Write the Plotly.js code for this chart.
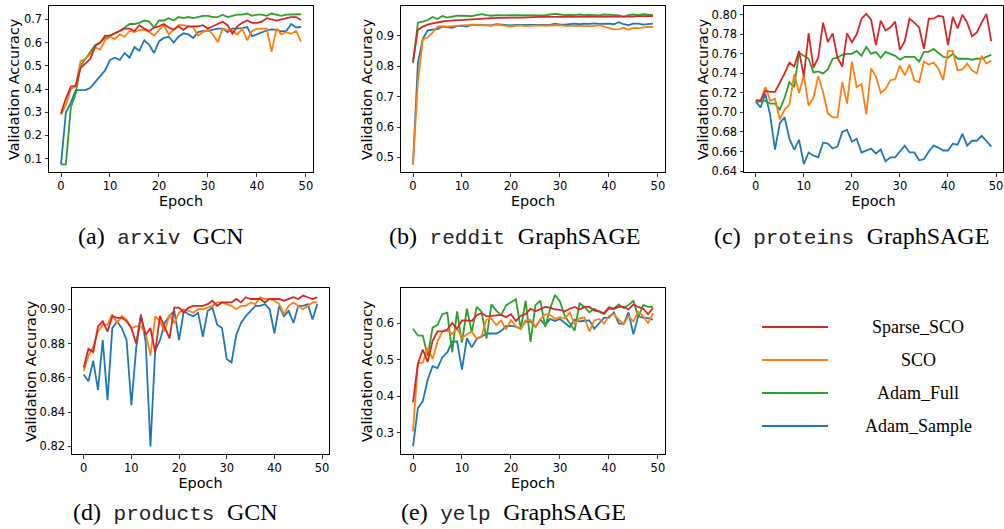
<!DOCTYPE html>
<html><head><meta charset="utf-8">
<script src="https://cdn.plot.ly/plotly-3.0.1.min.js"></script>
<style>html,body{margin:0;padding:0;background:#fff}#chart{width:1004px;height:529px}</style>
</head><body><div id="chart"></div>
<script>
const epochs = [0,1,2,3,4,5,6,7,8,9,10,11,12,13,14,15,16,17,18,19,20,21,22,23,24,25,26,27,28,29,30,31,32,33,34,35,36,37,38,39,40,41,42,43,44,45,46,47,48,49];
const seriesNames = ['Sparse_SCO','SCO','Adam_Full','Adam_Sample'];
const xTicks = [0,10,20,30,40,50];

// (a) arxiv GCN
const arxivSparseSCO = [0.295,0.36,0.41,0.415,0.49,0.51,0.53,0.585,0.60,0.63,0.63,0.64,0.65,0.66,0.66,0.65,0.675,0.66,0.65,0.665,0.67,0.68,0.665,0.655,0.67,0.655,0.67,0.67,0.67,0.675,0.66,0.67,0.68,0.69,0.675,0.638,0.67,0.685,0.695,0.685,0.685,0.69,0.705,0.70,0.695,0.70,0.705,0.71,0.71,0.697];
const arxivSCO = [0.29,0.33,0.40,0.41,0.52,0.53,0.55,0.58,0.57,0.61,0.625,0.615,0.635,0.625,0.65,0.645,0.655,0.655,0.645,0.63,0.655,0.675,0.635,0.655,0.675,0.675,0.67,0.665,0.63,0.645,0.655,0.635,0.602,0.66,0.655,0.65,0.635,0.66,0.61,0.65,0.66,0.66,0.66,0.56,0.66,0.635,0.645,0.638,0.65,0.604];
const arxivAdamFull = [0.075,0.075,0.32,0.38,0.50,0.53,0.56,0.59,0.60,0.62,0.63,0.64,0.65,0.665,0.68,0.68,0.685,0.695,0.69,0.665,0.695,0.695,0.705,0.695,0.71,0.705,0.71,0.705,0.71,0.715,0.715,0.71,0.71,0.72,0.71,0.715,0.72,0.72,0.725,0.715,0.72,0.72,0.715,0.725,0.72,0.715,0.72,0.72,0.722,0.722];
const arxivAdamSample = [0.075,0.30,0.34,0.395,0.395,0.395,0.405,0.43,0.45,0.48,0.525,0.535,0.525,0.555,0.535,0.58,0.565,0.61,0.59,0.555,0.605,0.62,0.625,0.60,0.625,0.64,0.635,0.62,0.645,0.65,0.65,0.655,0.66,0.66,0.645,0.66,0.66,0.662,0.667,0.628,0.635,0.645,0.652,0.657,0.655,0.648,0.65,0.68,0.665,0.667];

// (b) reddit GraphSAGE
const redditSparseSCO = [0.815,0.92,0.93,0.937,0.941,0.945,0.947,0.949,0.95,0.952,0.953,0.954,0.956,0.957,0.957,0.958,0.958,0.959,0.959,0.96,0.96,0.96,0.96,0.961,0.961,0.961,0.962,0.962,0.962,0.962,0.963,0.963,0.963,0.963,0.963,0.964,0.964,0.964,0.964,0.964,0.964,0.963,0.962,0.962,0.963,0.963,0.965,0.965,0.965,0.965];
const redditSCO = [0.475,0.75,0.888,0.895,0.91,0.93,0.932,0.93,0.932,0.934,0.934,0.935,0.936,0.936,0.934,0.935,0.933,0.937,0.935,0.933,0.93,0.933,0.934,0.932,0.933,0.934,0.934,0.933,0.934,0.935,0.935,0.933,0.933,0.934,0.934,0.933,0.934,0.932,0.935,0.93,0.925,0.921,0.922,0.927,0.92,0.926,0.925,0.928,0.929,0.929];
const redditAdamFull = [0.81,0.943,0.947,0.952,0.962,0.955,0.965,0.96,0.963,0.966,0.966,0.966,0.965,0.968,0.971,0.968,0.966,0.968,0.967,0.967,0.968,0.968,0.968,0.967,0.966,0.967,0.968,0.967,0.97,0.972,0.97,0.968,0.969,0.968,0.97,0.968,0.969,0.968,0.967,0.97,0.969,0.969,0.967,0.963,0.968,0.97,0.968,0.971,0.969,0.968];
const redditAdamSample = [0.48,0.81,0.89,0.918,0.92,0.922,0.93,0.928,0.926,0.932,0.933,0.93,0.937,0.936,0.935,0.935,0.934,0.938,0.936,0.935,0.934,0.936,0.936,0.936,0.937,0.937,0.936,0.938,0.936,0.94,0.937,0.937,0.939,0.94,0.938,0.94,0.939,0.941,0.939,0.94,0.94,0.938,0.945,0.938,0.935,0.94,0.94,0.937,0.938,0.94];

// (c) proteins GraphSAGE
const proteinsSparseSCO = [0.7127,0.712,0.722,0.721,0.721,0.730,0.740,0.751,0.747,0.763,0.737,0.781,0.746,0.756,0.792,0.772,0.781,0.756,0.747,0.781,0.772,0.780,0.796,0.801,0.795,0.769,0.794,0.784,0.787,0.793,0.764,0.773,0.796,0.792,0.787,0.765,0.796,0.796,0.799,0.798,0.769,0.798,0.786,0.800,0.792,0.778,0.782,0.792,0.801,0.773];
const proteinsSCO = [0.712,0.712,0.726,0.712,0.714,0.693,0.703,0.708,0.739,0.720,0.738,0.707,0.715,0.737,0.721,0.699,0.695,0.695,0.731,0.709,0.752,0.726,0.729,0.698,0.745,0.737,0.720,0.724,0.733,0.734,0.748,0.738,0.749,0.733,0.731,0.752,0.749,0.751,0.745,0.733,0.763,0.763,0.743,0.744,0.750,0.743,0.740,0.758,0.750,0.753];
const proteinsAdamFull = [0.711,0.711,0.712,0.709,0.709,0.703,0.715,0.731,0.726,0.761,0.758,0.755,0.741,0.742,0.740,0.744,0.755,0.756,0.759,0.760,0.760,0.763,0.758,0.767,0.760,0.762,0.756,0.762,0.760,0.758,0.754,0.757,0.757,0.757,0.752,0.762,0.762,0.765,0.761,0.757,0.756,0.760,0.755,0.755,0.755,0.754,0.755,0.755,0.757,0.759];
const proteinsAdamSample = [0.711,0.705,0.719,0.697,0.662,0.689,0.695,0.673,0.662,0.672,0.647,0.659,0.656,0.654,0.669,0.668,0.663,0.665,0.680,0.682,0.670,0.673,0.659,0.661,0.663,0.658,0.662,0.650,0.654,0.654,0.660,0.666,0.659,0.659,0.651,0.652,0.660,0.666,0.664,0.661,0.661,0.668,0.667,0.678,0.666,0.671,0.671,0.676,0.671,0.665];

// (d) products GCN (Adam_Full not visible in the reference)
const productsSparseSCO = [0.866,0.877,0.875,0.890,0.893,0.887,0.896,0.895,0.895,0.893,0.889,0.880,0.896,0.885,0.889,0.875,0.896,0.890,0.883,0.901,0.901,0.898,0.901,0.902,0.902,0.902,0.903,0.905,0.902,0.904,0.904,0.904,0.906,0.904,0.907,0.906,0.906,0.906,0.904,0.906,0.906,0.906,0.905,0.906,0.907,0.906,0.908,0.907,0.906,0.907];
const productsSCO = [0.864,0.873,0.878,0.887,0.891,0.891,0.897,0.892,0.896,0.894,0.889,0.890,0.890,0.886,0.873,0.896,0.893,0.887,0.897,0.892,0.898,0.900,0.899,0.898,0.900,0.900,0.901,0.902,0.904,0.904,0.903,0.902,0.900,0.902,0.902,0.904,0.903,0.907,0.906,0.906,0.905,0.903,0.897,0.902,0.904,0.902,0.900,0.902,0.904,0.904];
const productsAdamFull = [];
const productsAdamSample = [0.862,0.858,0.870,0.853,0.882,0.847,0.889,0.893,0.889,0.882,0.844,0.877,0.897,0.881,0.820,0.876,0.882,0.892,0.896,0.899,0.882,0.899,0.897,0.896,0.898,0.884,0.899,0.901,0.891,0.889,0.871,0.869,0.885,0.892,0.896,0.899,0.902,0.902,0.903,0.900,0.886,0.902,0.896,0.899,0.892,0.902,0.902,0.903,0.894,0.903];

// (e) yelp GraphSAGE
const yelpSparseSCO = [0.383,0.49,0.528,0.494,0.552,0.578,0.578,0.583,0.601,0.585,0.608,0.608,0.607,0.622,0.628,0.619,0.620,0.622,0.623,0.617,0.625,0.606,0.621,0.625,0.640,0.633,0.638,0.645,0.643,0.638,0.637,0.633,0.640,0.645,0.638,0.645,0.645,0.635,0.633,0.628,0.644,0.640,0.645,0.645,0.638,0.652,0.645,0.640,0.625,0.642];
const yelpSCO = [0.303,0.491,0.492,0.532,0.502,0.550,0.577,0.580,0.571,0.586,0.560,0.570,0.577,0.558,0.565,0.610,0.613,0.595,0.608,0.583,0.609,0.592,0.585,0.608,0.610,0.591,0.611,0.625,0.623,0.612,0.617,0.613,0.630,0.598,0.614,0.616,0.578,0.608,0.612,0.599,0.620,0.625,0.610,0.598,0.620,0.605,0.632,0.620,0.600,0.628];
const yelpAdamFull = [0.585,0.566,0.566,0.510,0.588,0.596,0.625,0.629,0.520,0.633,0.547,0.640,0.575,0.645,0.632,0.558,0.652,0.635,0.622,0.649,0.658,0.666,0.585,0.662,0.549,0.650,0.662,0.590,0.640,0.678,0.660,0.620,0.600,0.580,0.655,0.645,0.630,0.640,0.632,0.625,0.640,0.640,0.652,0.642,0.650,0.662,0.618,0.650,0.645,0.645];
const yelpAdamSample = [0.262,0.367,0.386,0.445,0.482,0.477,0.507,0.520,0.550,0.550,0.473,0.559,0.534,0.557,0.563,0.572,0.572,0.572,0.579,0.592,0.593,0.591,0.585,0.605,0.605,0.590,0.610,0.595,0.612,0.606,0.612,0.600,0.590,0.610,0.605,0.607,0.608,0.585,0.600,0.615,0.615,0.630,0.600,0.598,0.630,0.570,0.620,0.615,0.614,0.610];

const yTicksA = [0.1,0.2,0.3,0.4,0.5,0.6,0.7];
const yTicksB = [0.5,0.6,0.7,0.8,0.9];
const yTicksC = [0.64,0.66,0.68,0.70,0.72,0.74,0.76,0.78,0.80];
const yTicksD = [0.82,0.84,0.86,0.88,0.90];
const yTicksE = [0.3,0.4,0.5,0.6];

const captionPrefix = ['(a)','(b)','(c)','(d)','(e)'];
const captionData = ['arxiv','reddit','proteins','products','yelp'];
const captionModel = ['GCN','GraphSAGE','GraphSAGE','GCN','GraphSAGE'];
const yTitle = 'Validation Accuracy';
const xTitle = 'Epoch';

// styling
const colors = {'Sparse_SCO':'#d62728','SCO':'#ff7f0e','Adam_Full':'#2ca02c','Adam_Sample':'#1f77b4'};
const W = 1004, H = 529;
const px = v => v / W, py = v => 1 - v / H;

const panels = [
  {s:[arxivSparseSCO,arxivSCO,arxivAdamFull,arxivAdamSample], x:[49,313], y:[6,172], yr:[0.0425,0.7575], yt:yTicksA, yf:'.1f', cap:[161,236], yl:14},
  {s:[redditSparseSCO,redditSCO,redditAdamFull,redditAdamSample], x:[401,665], y:[6,172], yr:[0.452,0.998], yt:yTicksB, yf:'.1f', cap:[514,236], yl:367},
  {s:[proteinsSparseSCO,proteinsSCO,proteinsAdamFull,proteinsAdamSample], x:[744,1003], y:[6,172], yr:[0.639,0.809], yt:yTicksC, yf:'.2f', cap:[851,236], yl:703},
  {s:[productsSparseSCO,productsSCO,productsAdamFull,productsAdamSample], x:[72,329], y:[288,454], yr:[0.8156,0.9124], yt:yTicksD, yf:'.2f', cap:[175,512], yl:31},
  {s:[yelpSparseSCO,yelpSCO,yelpAdamFull,yelpAdamSample], x:[401,665], y:[288,454], yr:[0.241,0.697], yt:yTicksE, yf:'.1f', cap:[513,512], yl:367}
];

const tickFont = {family:'DejaVu Sans', size:11.5, color:'#000'};
const titleFont = {family:'DejaVu Sans', size:14.4, color:'#000'};
const traces = [];
const layout = {
  width:W, height:H, margin:{l:0,r:0,t:0,b:0}, paper_bgcolor:'#fff', plot_bgcolor:'#fff',
  showlegend:false, shapes:[], annotations:[]
};
const drawOrder = [3,2,1,0];
panels.forEach((p,i) => {
  const n = i === 0 ? '' : String(i+1);
  drawOrder.forEach(k => {
    if (!p.s[k].length) return;
    traces.push({x:epochs, y:p.s[k], type:'scatter', mode:'lines', name:seriesNames[k],
      xaxis:'x'+n, yaxis:'y'+n, line:{color:colors[seriesNames[k]], width:1.8}, hoverinfo:'skip'});
  });
  const common = {showline:true, mirror:true, linecolor:'#000', linewidth:1, ticks:'outside', ticklen:3.5,
    tickwidth:0.8, tickcolor:'#000', showgrid:false, zeroline:false, tickfont:tickFont, automargin:false};
  layout['xaxis'+n] = Object.assign({}, common, {domain:[px(p.x[0]),px(p.x[1])], range:[-2.45,51.45],
    tickvals:xTicks, anchor:'y'+n, title:{text:xTitle, font:titleFont, standoff:0}});
  layout['yaxis'+n] = Object.assign({}, common, {domain:[py(p.y[1]),py(p.y[0])], range:p.yr,
    tickvals:p.yt, tickformat:p.yf, anchor:'x'+n});
  // y-axis title placed to match the reference's label offset
  layout.annotations.push({xref:'paper', yref:'paper', x:px(p.yl), y:py((p.y[0]+p.y[1])/2), xanchor:'center', yanchor:'middle',
    textangle:-90, showarrow:false, text:yTitle, font:titleFont});
  layout.annotations.push({xref:'paper', yref:'paper', x:px(p.cap[0]), y:py(p.cap[1]), xanchor:'center', yanchor:'middle',
    showarrow:false, font:{family:'Liberation Serif', size:24, color:'#000'},
    text: captionPrefix[i] + '<span style="font-family:Liberation Mono;font-size:21px;fill:#222"> ' + captionData[i] + ' </span>' + captionModel[i]});
});

// legend
const legY = [327,360,393,426];
seriesNames.forEach((nm,k) => {
  layout.shapes.push({type:'line', xref:'paper', yref:'paper', x0:px(762), x1:px(828), y0:py(legY[k]), y1:py(legY[k]),
    line:{color:colors[nm], width:1.8}});
  layout.annotations.push({xref:'paper', yref:'paper', x:px(918), y:py(legY[k]), xanchor:'center', yanchor:'middle',
    showarrow:false, text:nm, font:{family:'Liberation Serif', size:18, color:'#000'}});
});

Plotly.newPlot('chart', traces, layout, {displayModeBar:false, staticPlot:true});
</script></body></html>
